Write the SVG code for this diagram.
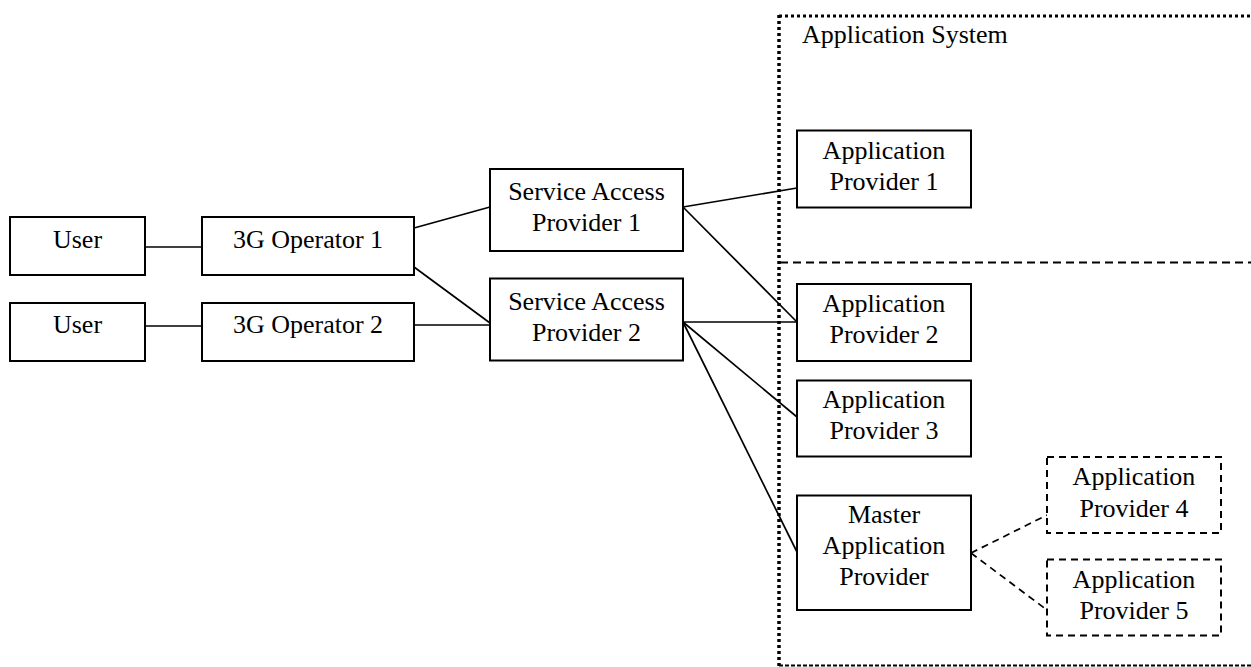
<svg xmlns="http://www.w3.org/2000/svg" width="1251" height="667" viewBox="0 0 1251 667">
<style>
  .box { fill: #fff; stroke: #000; stroke-width: 2; }
  .dbox { fill: #fff; stroke: #000; stroke-width: 2; stroke-dasharray: 7 5; }
  .c { stroke: #000; stroke-width: 1.7; fill: none; }
  .cd { stroke: #000; stroke-width: 1.7; fill: none; stroke-dasharray: 7 5; }
  text { font-family: "Liberation Serif", "Times New Roman", serif; font-size: 26px; fill: #000; text-anchor: middle; }
  .start { text-anchor: start; }
</style>
<rect width="1251" height="667" fill="#fff"/>
<g id="application-system">
  <line x1="779" y1="16" x2="1251" y2="16" stroke="#000" stroke-width="3" stroke-dasharray="3 3"/>
  <line x1="779" y1="15" x2="779" y2="666" stroke="#000" stroke-width="3.5" stroke-dasharray="3 3"/>
  <line x1="779" y1="665.5" x2="1251" y2="665.5" stroke="#000" stroke-width="1.8" stroke-dasharray="4 2"/>
  <line x1="780" y1="262.5" x2="1251" y2="262.5" stroke="#000" stroke-width="1.8" stroke-dasharray="8 5"/>
  <text class="start" x="802" y="43">Application System</text>
</g>
<g id="connectors">
  <line class="c" x1="145" y1="247" x2="202" y2="247"/>
  <line class="c" x1="145" y1="326" x2="202" y2="326"/>
  <line class="c" x1="414" y1="228" x2="490" y2="207"/>
  <line class="c" x1="414" y1="267" x2="490" y2="323"/>
  <line class="c" x1="414" y1="325" x2="490" y2="325"/>
  <line class="c" x1="683" y1="207" x2="797" y2="188"/>
  <line class="c" x1="683" y1="207" x2="797" y2="322"/>
  <line class="c" x1="683" y1="322" x2="797" y2="322"/>
  <line class="c" x1="683" y1="322" x2="797" y2="417"/>
  <line class="c" x1="683" y1="322" x2="797" y2="552"/>
  <line class="cd" x1="971" y1="553" x2="1047" y2="515"/>
  <line class="cd" x1="971" y1="553" x2="1047" y2="610"/>
</g>
<g id="user1">
  <rect class="box" x="10" y="217" width="135" height="58"/>
  <text x="77.5" y="248">User</text>
</g>
<g id="user2">
  <rect class="box" x="10" y="303" width="135" height="58"/>
  <text x="77.5" y="333">User</text>
</g>
<g id="op1">
  <rect class="box" x="202" y="217" width="212" height="58"/>
  <text x="308" y="248">3G Operator 1</text>
</g>
<g id="op2">
  <rect class="box" x="202" y="303" width="212" height="58"/>
  <text x="308" y="333">3G Operator 2</text>
</g>
<g id="sap1">
  <rect class="box" x="490" y="169" width="193" height="82"/>
  <text x="586.5" y="200">Service Access</text>
  <text x="586.5" y="230.5">Provider 1</text>
</g>
<g id="sap2">
  <rect class="box" x="490" y="278.5" width="193" height="82"/>
  <text x="586.5" y="310">Service Access</text>
  <text x="586.5" y="340.5">Provider 2</text>
</g>
<g id="ap1">
  <rect class="box" x="797" y="130.5" width="174" height="77"/>
  <text x="884" y="158.5">Application</text>
  <text x="884" y="189.5">Provider 1</text>
</g>
<g id="ap2">
  <rect class="box" x="797" y="284" width="174" height="77"/>
  <text x="884" y="312">Application</text>
  <text x="884" y="343">Provider 2</text>
</g>
<g id="ap3">
  <rect class="box" x="797" y="380.5" width="174" height="76"/>
  <text x="884" y="408">Application</text>
  <text x="884" y="439">Provider 3</text>
</g>
<g id="master">
  <rect class="box" x="797" y="495.5" width="174" height="114.5"/>
  <text x="884" y="523">Master</text>
  <text x="884" y="554">Application</text>
  <text x="884" y="585">Provider</text>
</g>
<g id="ap4">
  <rect class="dbox" x="1047" y="457" width="174" height="76"/>
  <text x="1134" y="485">Application</text>
  <text x="1134" y="516.5">Provider 4</text>
</g>
<g id="ap5">
  <rect class="dbox" x="1047" y="559.5" width="174" height="76"/>
  <text x="1134" y="587.5">Application</text>
  <text x="1134" y="619">Provider 5</text>
</g>
</svg>
